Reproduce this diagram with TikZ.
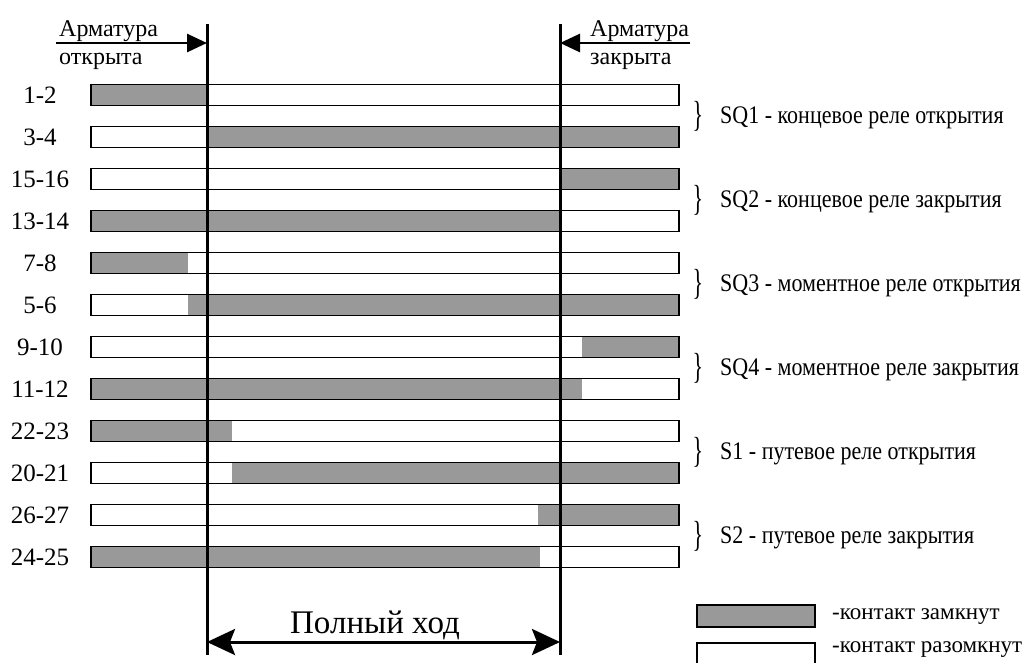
\documentclass[tikz,border=0pt]{standalone}
\usepackage{fontspec}
\setmainfont{Liberation Serif}
\usetikzlibrary{arrows.meta}
\definecolor{contact}{RGB}{153,153,153}
\tikzset{
  barframe/.style={draw=black, line width=1.9pt},
  contactfill/.style={fill=contact},
  travel/.style={line width=3pt},
  toparrow/.style={line width=2.8pt, -{Triangle[length=20pt,width=18pt]}},
  fullarrow/.style={line width=3pt, {Stealth[length=28pt,width=26pt,inset=5pt]}-{Stealth[length=28pt,width=26pt,inset=5pt]}},
  rowlbl/.style={font=\fontsize{25}{28}\selectfont, inner sep=0, anchor=base},
  desclbl/.style={font=\fontsize{22}{24}\selectfont, inner sep=0, anchor=base west},
  legendlbl/.style={font=\fontsize{23}{24}\selectfont, inner sep=0, anchor=base west},
  toplbl/.style={font=\fontsize{24}{26}\selectfont, inner sep=0, anchor=base west},
  bracelbl/.style={font=\fontsize{22}{24}\selectfont, inner sep=0},
}
\newcommand\contactrow[5]{%
  \node[rowlbl] (#1) at (40,#2+8.5) {#3};
  \fill[contactfill] (#4,#2-10.5) rectangle (#5,#2+10.5);
  \draw[barframe] (91,#2-10.5) rectangle (679,#2+10.5);
}
\newcommand\relaylabel[3]{%
  \node[bracelbl] (#1br) at (698,#2) {\scalebox{1}[1.65]{\}}};
  \node[desclbl] (#1) at (720,#2+7) {\scalebox{1}[1.15]{#3}};
}
\begin{document}
\begin{tikzpicture}[x=1pt,y=-1pt]
\useasboundingbox (0,0) rectangle (1025,662);
% rows
\contactrow{r12}{95}{1-2}{91}{207}
\contactrow{r34}{137}{3-4}{207}{679}
\contactrow{r1516}{179}{15-16}{560}{679}
\contactrow{r1314}{221}{13-14}{91}{560}
\contactrow{r78}{263}{7-8}{91}{188}
\contactrow{r56}{305}{5-6}{188}{679}
\contactrow{r910}{347}{9-10}{582}{679}
\contactrow{r1112}{389}{11-12}{91}{582}
\contactrow{r2223}{431}{22-23}{91}{232}
\contactrow{r2021}{473}{20-21}{232}{679}
\contactrow{r2627}{515}{26-27}{538}{679}
\contactrow{r2425}{557}{24-25}{91}{540}
% relay descriptions
\relaylabel{sq1}{116}{SQ1 - концевое реле открытия}
\relaylabel{sq2}{200}{SQ2 - концевое реле закрытия}
\relaylabel{sq3}{284}{SQ3 - моментное реле открытия}
\relaylabel{sq4}{368}{SQ4 - моментное реле закрытия}
\relaylabel{s1}{452}{S1 - путевое реле открытия}
\relaylabel{s2}{536}{S2 - путевое реле закрытия}
% travel limits
\coordinate (Ltop) at (207,24);
\coordinate (Lbot) at (207,655);
\coordinate (Rtop) at (560,24);
\coordinate (Rbot) at (560,655);
\draw[travel] (Ltop) -- (Lbot);
\draw[travel] (Rtop) -- (Rbot);
% top arrows
\node[toplbl] (openA) at (59,36) {Арматура};
\node[toplbl] (openB) at (59,64) {открыта};
\node[toplbl] (closeA) at (590,36) {Арматура};
\node[toplbl] (closeB) at (590,64) {закрыта};
\coordinate (openStart) at (56,43);
\coordinate (closeStart) at (690,43);
\draw[toparrow] (openStart) -- (Ltop |- openStart);
\draw[toparrow] (closeStart) -- (Rtop |- closeStart);
% full travel
\coordinate (fullL) at (Lbot |- 0,642);
\coordinate (fullR) at (Rbot |- 0,642);
\draw[fullarrow] (fullL) -- (fullR);
\node[font=\fontsize{33}{36}\selectfont, inner sep=0, anchor=base] (full) at (375,633) {Полный ход};
% legend
\draw[barframe, contactfill] (697,605) rectangle (815,627);
\draw[barframe, fill=white] (697,643) rectangle (815,666);
\node[legendlbl] (lgOn) at (832,619) {-контакт замкнут};
\node[legendlbl] (lgOff) at (832,652) {-контакт разомкнут};
\end{tikzpicture}
\end{document}
